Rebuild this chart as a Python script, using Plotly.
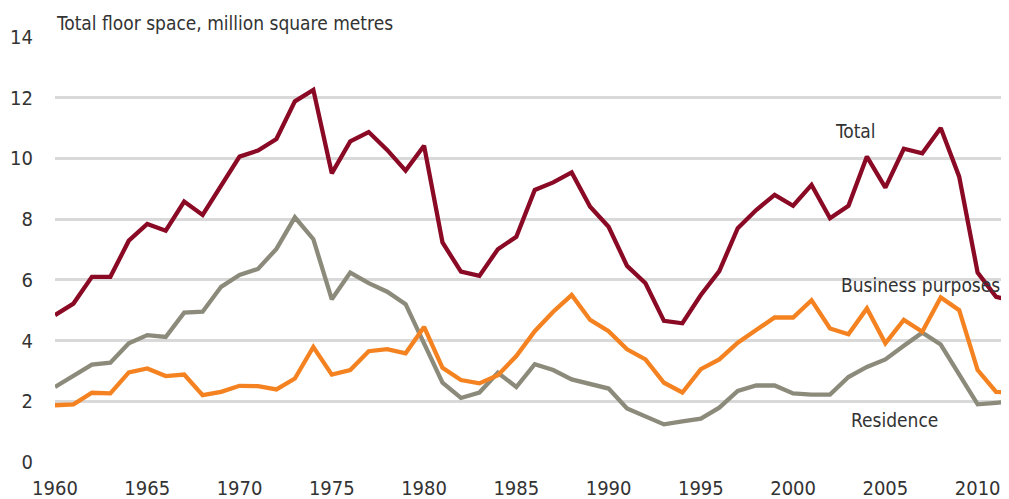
import plotly.graph_objects as go

years = list(range(1960, 2013))

total = [4.84, 5.22, 6.10, 6.10, 7.29, 7.84, 7.62, 8.58, 8.14, 9.13,
         10.06, 10.26, 10.64, 11.88, 12.26, 9.51, 10.56, 10.87, 10.28, 9.60,
         10.42, 7.23, 6.27, 6.13, 7.01, 7.42, 8.96, 9.21, 9.54, 8.41,
         7.75, 6.46, 5.89, 4.65, 4.57, 5.50, 6.29, 7.70, 8.30, 8.80,
         8.44, 9.13, 8.03, 8.44, 10.06, 9.04, 10.32, 10.17, 11.00, 9.40,
         6.24, 5.44, 5.30]

business = [1.87, 1.90, 2.28, 2.26, 2.95, 3.08, 2.83, 2.88, 2.20, 2.31,
            2.51, 2.50, 2.39, 2.75, 3.79, 2.88, 3.03, 3.65, 3.72, 3.58,
            4.45, 3.10, 2.70, 2.59, 2.86, 3.49, 4.31, 4.95, 5.50, 4.68,
            4.31, 3.71, 3.38, 2.61, 2.29, 3.06, 3.38, 3.93, 4.35, 4.76,
            4.76, 5.33, 4.40, 4.21, 5.06, 3.91, 4.68, 4.29, 5.42, 5.00,
            3.03, 2.31, 2.27]

residence = [2.47, 2.84, 3.21, 3.27, 3.91, 4.18, 4.12, 4.92, 4.95, 5.77,
             6.16, 6.36, 7.02, 8.06, 7.34, 5.36, 6.24, 5.89, 5.61, 5.20,
             3.90, 2.61, 2.11, 2.29, 2.94, 2.47, 3.22, 3.03, 2.72, 2.56,
             2.42, 1.76, 1.49, 1.24, 1.34, 1.43, 1.79, 2.34, 2.52, 2.52,
             2.26, 2.22, 2.22, 2.80, 3.13, 3.38, 3.83, 4.26, 3.87, 2.89,
             1.90, 1.95, 2.00]

x_ticks = [1960, 1965, 1970, 1975, 1980, 1985, 1990, 1995, 2000, 2005, 2010]
y_ticks = [0, 2, 4, 6, 8, 10, 12, 14]

title_text = "Total floor space, million square metres"
labels = [("Total", 2003.4, 10.89), ("Business purposes", 2006.9, 5.83),
          ("Residence", 2005.5, 1.38)]

FONT = "Liberation Sans Narrow, DejaVu Sans Condensed, Roboto, sans-serif"
TXT = "#333333"

fig = go.Figure()
fig.add_trace(go.Scatter(x=years, y=residence, mode="lines",
                         line=dict(color="#8C8B7B", width=4.3), name="Residence"))
fig.add_trace(go.Scatter(x=years, y=business, mode="lines",
                         line=dict(color="#F58220", width=4.3), name="Business purposes"))
fig.add_trace(go.Scatter(x=years, y=total, mode="lines",
                         line=dict(color="#8A0A25", width=4.3), name="Total"))

for txt, xx, yy in labels:
    fig.add_annotation(x=xx, y=yy, xref="x", yref="y", text=txt, showarrow=False,
                       font=dict(family=FONT, size=19, color=TXT))

fig.add_annotation(x=0, y=1.034, xref="paper", yref="paper", text=title_text,
                   showarrow=False, xanchor="left", yanchor="middle", xshift=-1,
                   font=dict(family=FONT, size=19, color=TXT))

# page body has an 8px margin, so the figure is drawn 8px in from the corner
fig.update_layout(
    width=1001, height=491,
    margin=dict(l=47, r=0, t=29, b=37),
    paper_bgcolor="white", plot_bgcolor="white",
    showlegend=False,
    font=dict(family=FONT, size=19, color=TXT),
    xaxis=dict(range=[1960, 2011.7], tickvals=x_ticks, showgrid=False,
               zeroline=False, showline=False, ticks="", ticklabelstandoff=12,
               automargin=False,
               tickfont=dict(family=FONT, size=20, color=TXT)),
    yaxis=dict(range=[0, 14], tickvals=y_ticks, showgrid=True,
               gridcolor="#D9D9D9", gridwidth=2.5, zeroline=False,
               showline=False, ticks="", ticklabelstandoff=21,
               automargin=False,
               tickfont=dict(family=FONT, size=20, color=TXT)),
)

fig.write_html("out.html")
